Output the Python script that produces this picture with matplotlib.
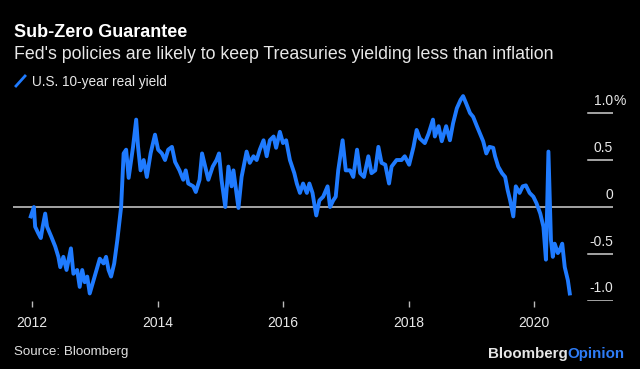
import matplotlib
matplotlib.use("Agg")
import matplotlib.pyplot as plt
from matplotlib.lines import Line2D

plt.rcParams['font.family'] = ['Liberation Sans', 'DejaVu Sans']

# === DATA (decimal years) ===
dates = [
    2011.98, 2012.03, 2012.05, 2012.10, 2012.14, 2012.17, 2012.21, 2012.24, 2012.31, 2012.37,
    2012.42, 2012.45, 2012.50, 2012.55, 2012.62, 2012.66, 2012.72, 2012.76, 2012.80, 2012.84,
    2012.88, 2012.92, 2012.98, 2013.04, 2013.08, 2013.14, 2013.18, 2013.22, 2013.26, 2013.31,
    2013.36, 2013.42, 2013.46, 2013.50, 2013.54, 2013.58, 2013.61, 2013.66, 2013.69, 2013.73,
    2013.78, 2013.83, 2013.89, 2013.96, 2014.01, 2014.07, 2014.12, 2014.17, 2014.23, 2014.28,
    2014.35, 2014.41, 2014.45, 2014.49, 2014.57, 2014.61, 2014.67, 2014.71, 2014.76, 2014.81,
    2014.88, 2014.94, 2014.98, 2015.02, 2015.08, 2015.13, 2015.18, 2015.21, 2015.29, 2015.34,
    2015.42, 2015.47, 2015.53, 2015.58, 2015.63, 2015.69, 2015.74, 2015.79, 2015.85, 2015.89,
    2015.95, 2016.00, 2016.05, 2016.11, 2016.18, 2016.22, 2016.27, 2016.32, 2016.38, 2016.42,
    2016.47, 2016.53, 2016.58, 2016.64, 2016.71, 2016.75, 2016.80, 2016.84, 2016.88, 2016.95,
    2017.00, 2017.07, 2017.12, 2017.18, 2017.23, 2017.29, 2017.36, 2017.41, 2017.47, 2017.52,
    2017.57, 2017.63, 2017.69, 2017.73, 2017.81, 2017.89, 2017.94, 2018.01, 2018.08, 2018.13,
    2018.18, 2018.26, 2018.32, 2018.39, 2018.42, 2018.48, 2018.53, 2018.60, 2018.66, 2018.71,
    2018.77, 2018.83, 2018.87, 2018.92, 2018.98, 2019.03, 2019.09, 2019.14, 2019.19, 2019.24,
    2019.29, 2019.35, 2019.38, 2019.43, 2019.49, 2019.54, 2019.58, 2019.62, 2019.67, 2019.71,
    2019.77, 2019.82, 2019.87, 2019.93, 2019.99, 2020.04, 2020.10, 2020.15, 2020.19, 2020.23,
    2020.27, 2020.30, 2020.33, 2020.38, 2020.41, 2020.45, 2020.49, 2020.54, 2020.57,
]
real_yield = [
    -0.10, 0.00, -0.21, -0.28, -0.33, -0.21, -0.07, -0.21, -0.32, -0.42,
    -0.53, -0.64, -0.53, -0.67, -0.44, -0.71, -0.67, -0.85, -0.67, -0.80,
    -0.74, -0.92, -0.78, -0.64, -0.55, -0.60, -0.53, -0.67, -0.74, -0.60,
    -0.35, 0.00, 0.57, 0.61, 0.31, 0.50, 0.64, 0.93, 0.64, 0.39,
    0.50, 0.32, 0.57, 0.77, 0.61, 0.57, 0.50, 0.61, 0.64, 0.48,
    0.39, 0.29, 0.39, 0.25, 0.22, 0.16, 0.29, 0.57, 0.43, 0.29,
    0.43, 0.50, 0.57, 0.29, 0.00, 0.43, 0.22, 0.39, -0.01, 0.32,
    0.59, 0.47, 0.54, 0.50, 0.61, 0.71, 0.54, 0.71, 0.75, 0.63,
    0.80, 0.68, 0.71, 0.50, 0.36, 0.25, 0.15, 0.25, 0.15, 0.25,
    0.15, -0.09, 0.07, 0.11, 0.22, 0.00, 0.07, 0.11, 0.39, 0.71,
    0.39, 0.39, 0.32, 0.61, 0.36, 0.32, 0.54, 0.36, 0.39, 0.64,
    0.47, 0.45, 0.25, 0.43, 0.50, 0.50, 0.54, 0.45, 0.64, 0.82,
    0.73, 0.68, 0.78, 0.93, 0.75, 0.86, 0.70, 0.86, 0.71, 0.89,
    1.05, 1.14, 1.18, 1.10, 1.00, 0.96, 0.86, 0.78, 0.70, 0.57,
    0.64, 0.63, 0.54, 0.43, 0.36, 0.32, 0.18, 0.07, -0.10, 0.22,
    0.15, 0.22, 0.23, 0.15, 0.11, 0.04, -0.07, -0.21, -0.56, 0.59,
    -0.35, -0.53, -0.39, -0.49, -0.46, -0.39, -0.64, -0.78, -0.92,
]
years = [2012, 2014, 2016, 2018, 2020]
y_levels = [1.0, 0.5, 0.0, -0.5, -1.0]
y_labels = ['1.0', '0.5', '0', '-0.5', '-1.0']

BLUE = '#1f7bff'
GREY = '#d0d0d0'

W, H = 640, 369
fig = plt.figure(figsize=(W / 100, H / 100), dpi=100, facecolor='black')

# axes box in pixel terms: x 13..613, y 90..301
ax = fig.add_axes([13 / W, 1 - 301 / H, 600 / W, 211 / H])
ax.set_facecolor('black')
ax.set_xlim(2011.697, 2021.259)
ax.set_ylim(-1.0, 1.245)
for s in ax.spines.values():
    s.set_visible(False)

ax.plot(dates, real_yield, color=BLUE, lw=2.8, solid_joinstyle='round', zorder=3)

# zero line across, short marks at the right for the other levels
for v, lab in zip(y_levels, y_labels):
    if v == 0:
        ax.axhline(0, color=GREY, lw=1.1, zorder=2)
    else:
        ax.axhline(v, xmin=0.958, xmax=1.0, color=GREY, lw=1.1, zorder=2)
    ax.annotate(lab, xy=(1.0, v), xycoords=('axes fraction', 'data'),
                xytext=(0, 9), textcoords='offset points',
                ha='right', va='center', color='#e8e8e8', fontsize=10)
ax.annotate('%', xy=(1.0, 1.0), xycoords=('axes fraction', 'data'),
            xytext=(0, 9), textcoords='offset points',
            ha='left', va='center', color='#e8e8e8', fontsize=10)

ax.set_yticks([])
ax.set_xticks(years)
ax.set_xticklabels([str(y) for y in years])
ax.tick_params(axis='x', length=4.5, width=1, color='#bbbbbb', direction='out',
               pad=6, labelsize=10, labelcolor='#e8e8e8')

# header
fig.text(14 / W, 1 - 37 / H, 'Sub-Zero Guarantee', color='white', fontsize=13,
         fontweight='bold', va='baseline')
fig.text(14 / W, 1 - 59 / H,
         "Fed's policies are likely to keep Treasuries yielding less than inflation",
         color='#e8e8e8', fontsize=12.8, va='baseline')
fig.add_artist(Line2D([16 / W, 25 / W], [1 - 86 / H, 1 - 76 / H], color=BLUE, lw=2))
fig.text(32 / W, 1 - 86 / H, 'U.S. 10-year real yield', color='#e8e8e8',
         fontsize=9.8, va='baseline')

# footer
fig.text(14 / W, 1 - 355 / H, 'Source: Bloomberg', color='#e0e0e0', fontsize=9.6,
         va='baseline')
bb = fig.text(488 / W, 1 - 358 / H, 'Bloomberg', color='#e6e6e6', fontsize=10.9,
              fontweight='bold', va='baseline')
ax.annotate('Opinion', xy=(1, 0), xycoords=bb, ha='left', va='bottom',
            color='#2e7cf6', fontsize=10.9, fontweight='bold', annotation_clip=False)

fig.savefig('out.png', dpi=100, facecolor='black')
